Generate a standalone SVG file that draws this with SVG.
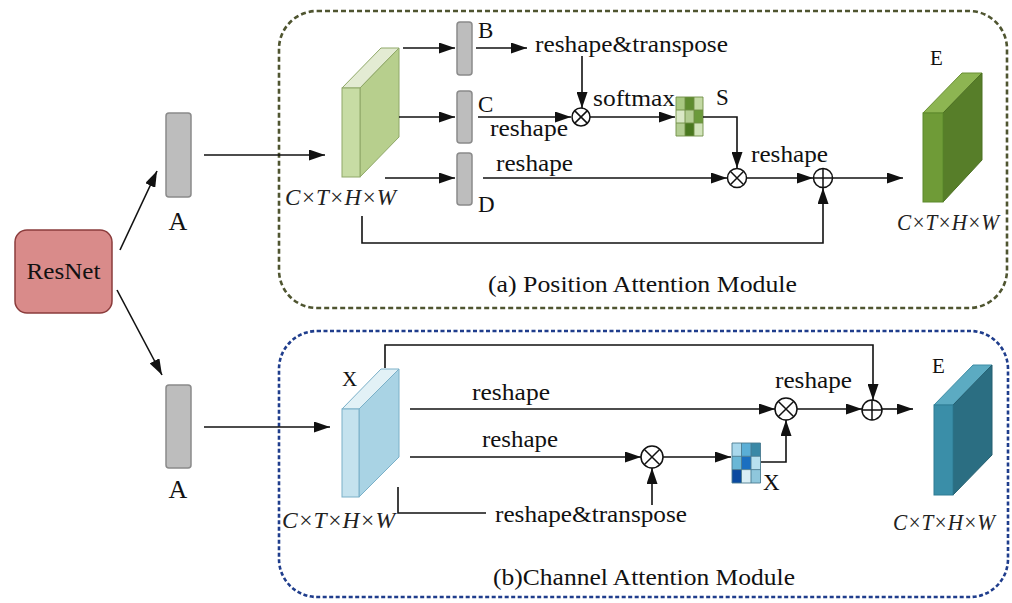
<svg xmlns="http://www.w3.org/2000/svg" width="1012" height="603" viewBox="0 0 1012 603">
<defs>
<style>
.t{font-family:"Liberation Serif","Times New Roman",serif;font-size:23px;fill:#111}
.i{font-family:"Liberation Serif","Times New Roman",serif;font-size:23px;font-style:italic;fill:#222}
.ln{fill:none;stroke:#111;stroke-width:1.6}
.ar{marker-end:url(#ah)}
.op{fill:#fff;stroke:#111;stroke-width:1.5}
.bar{fill:#bdbdbd;stroke:#8a8a8a;stroke-width:1.5}
</style>
<marker id="ah" viewBox="0 0 16 11" refX="16" refY="5.5" markerWidth="16" markerHeight="11" markerUnits="userSpaceOnUse" orient="auto">
<path d="M0,0 L16,5.5 L0,11 z" fill="#111"/>
</marker>
</defs>
<rect width="1012" height="603" fill="#fff"/>

<g id="module-a-frame">
<rect x="279" y="11" width="728" height="297" rx="38" fill="none" stroke="#4f5530" stroke-width="2.6" stroke-dasharray="5 3"/>
<text class="t" x="488" y="292" textLength="309" lengthAdjust="spacingAndGlyphs">(a) Position Attention Module</text>
</g>
<g id="module-b-frame">
<rect x="279" y="331" width="729" height="266" rx="38" fill="none" stroke="#1f3d8c" stroke-width="2.6" stroke-dasharray="4 2.5"/>
<text class="t" x="493" y="585" textLength="302" lengthAdjust="spacingAndGlyphs">(b)Channel Attention Module</text>
</g>

<g id="resnet">
<rect x="15" y="230" width="97" height="83" rx="12" fill="#d98b8a" stroke="#8b3c3c" stroke-width="1.5"/>
<text class="t" x="63.5" y="279" text-anchor="middle" textLength="74" lengthAdjust="spacingAndGlyphs">ResNet</text>
</g>
<g id="a-top">
<rect class="bar" x="166" y="113" width="25" height="84" rx="3"/>
<text class="t" x="178" y="230" text-anchor="middle" style="font-size:26px">A</text>
</g>
<g id="a-bottom">
<rect class="bar" x="166" y="385" width="25" height="83" rx="3"/>
<text class="t" x="178" y="498" text-anchor="middle" style="font-size:26px">A</text>
</g>

<g id="cube-input-a">
<polygon points="342,88 381,48 399,48 360,88" fill="#e3ebd3" stroke="#8fa868" stroke-width="1"/>
<polygon points="360,88 399,48 399,137 360,177" fill="#b7cf8d" stroke="#8fa868" stroke-width="1"/>
<rect x="342" y="88" width="18" height="89" fill="#c7dca4" stroke="#8fa868" stroke-width="1"/>
<text class="i" x="285" y="205" textLength="111" lengthAdjust="spacingAndGlyphs">C×T×H×W</text>
</g>
<g id="bar-b">
<rect class="bar" x="457" y="22" width="15" height="53" rx="3"/>
<text class="t" x="478" y="38">B</text>
</g>
<g id="bar-c">
<rect class="bar" x="457" y="91" width="15" height="52" rx="3"/>
<text class="t" x="478" y="112">C</text>
</g>
<g id="bar-d">
<rect class="bar" x="457" y="153" width="15" height="52" rx="3"/>
<text class="t" x="478" y="212">D</text>
</g>

<g id="matrix-s">
<rect x="676" y="97" width="9" height="13" fill="#a9c882"/>
<rect x="685" y="97" width="9" height="13" fill="#5f8c30"/>
<rect x="694" y="97" width="9" height="13" fill="#c3d9a4"/>
<rect x="676" y="110" width="9" height="13" fill="#dae8c6"/>
<rect x="685" y="110" width="9" height="13" fill="#b3cd92"/>
<rect x="694" y="110" width="9" height="13" fill="#6b9a3b"/>
<rect x="676" y="123" width="9" height="13" fill="#b3cd92"/>
<rect x="685" y="123" width="9" height="13" fill="#4a7820"/>
<rect x="694" y="123" width="9" height="13" fill="#d2e4bb"/>
<path d="M676,97h27v39h-27z M685,97v39 M694,97v39 M676,110h27 M676,123h27" fill="none" stroke="#6f8f45" stroke-width="0.9"/>
<text class="t" x="716" y="105">S</text>
</g>

<g id="op-a-mul1">
<circle class="op" cx="581" cy="117" r="9"/>
<path d="M574.6,110.6L587.4,123.4M587.4,110.6L574.6,123.4" stroke="#111" stroke-width="1.5"/>
</g>
<g id="op-a-mul2">
<circle class="op" cx="737" cy="178" r="9.5"/>
<path d="M730.3,171.3L743.7,184.7M743.7,171.3L730.3,184.7" stroke="#111" stroke-width="1.5"/>
</g>
<g id="op-a-add">
<circle class="op" cx="823" cy="178" r="9.5"/>
<path d="M813.5,178H832.5M823,168.5V187.5" stroke="#111" stroke-width="1.5"/>
</g>

<g id="cube-e-a">
<polygon points="923,113 962,73 982,73 943,113" fill="#8db552" stroke="#6a9034" stroke-width="1"/>
<polygon points="943,113 982,73 982,160 943,202" fill="#577e29" stroke="#4c7022" stroke-width="1"/>
<rect x="923" y="113" width="20" height="89" fill="#6f9b37" stroke="#5d8a2d" stroke-width="1"/>
<text class="t" x="930" y="65" style="font-size:21px">E</text>
<text class="i" x="897" y="230" textLength="102" lengthAdjust="spacingAndGlyphs">C×T×H×W</text>
</g>

<g id="cube-x-b">
<polygon points="342,409 381,369 399,369 359,409" fill="#e2f1f6" stroke="#7ab0c8" stroke-width="1"/>
<polygon points="359,409 399,369 399,457 359,497" fill="#a9d3e4" stroke="#7ab0c8" stroke-width="1"/>
<rect x="342" y="409" width="17" height="88" fill="#c4e2ee" stroke="#7ab0c8" stroke-width="1"/>
<text class="t" x="342" y="386" style="font-size:21px">X</text>
<text class="i" x="282" y="528" textLength="113" lengthAdjust="spacingAndGlyphs">C×T×H×W</text>
</g>

<g id="matrix-x">
<rect x="732" y="443" width="9.5" height="13.3" fill="#a9d8ec"/>
<rect x="741.5" y="443" width="9.5" height="13.3" fill="#5aaed6"/>
<rect x="751" y="443" width="9.5" height="13.3" fill="#3a88a6"/>
<rect x="732" y="456.3" width="9.5" height="13.3" fill="#6ab7d6"/>
<rect x="741.5" y="456.3" width="9.5" height="13.3" fill="#1b6fc0"/>
<rect x="751" y="456.3" width="9.5" height="13.3" fill="#b8e0ee"/>
<rect x="732" y="469.6" width="9.5" height="13.4" fill="#0b4aa0"/>
<rect x="741.5" y="469.6" width="9.5" height="13.4" fill="#d9eef5"/>
<rect x="751" y="469.6" width="9.5" height="13.4" fill="#8fc7dc"/>
<path d="M732,443h28.5v40h-28.5z M741.5,443v40 M751,443v40 M732,456.3h28.5 M732,469.6h28.5" fill="none" stroke="#4a7a90" stroke-width="0.9"/>
<text class="t" x="763" y="490">X</text>
</g>

<g id="op-b-mul1">
<circle class="op" cx="652" cy="457" r="11"/>
<path d="M644.2,449.2L659.8,464.8M659.8,449.2L644.2,464.8" stroke="#111" stroke-width="1.5"/>
</g>
<g id="op-b-mul2">
<circle class="op" cx="786" cy="409" r="11"/>
<path d="M778.2,401.2L793.8,416.8M793.8,401.2L778.2,416.8" stroke="#111" stroke-width="1.5"/>
</g>
<g id="op-b-add">
<circle class="op" cx="872" cy="410" r="10"/>
<path d="M862,410H882M872,400V420" stroke="#111" stroke-width="1.5"/>
</g>

<g id="cube-e-b">
<polygon points="934,405 973,365 992,365 953,405" fill="#5cabc2" stroke="#3f8ea6" stroke-width="1"/>
<polygon points="953,405 992,365 992,455 953,495" fill="#2b6e82" stroke="#245f70" stroke-width="1"/>
<rect x="934" y="405" width="19" height="90" fill="#3a8ea8" stroke="#2f7c94" stroke-width="1"/>
<text class="t" x="932" y="373" style="font-size:21px">E</text>
<text class="i" x="893" y="530" textLength="102" lengthAdjust="spacingAndGlyphs">C×T×H×W</text>
</g>

<g id="connectors">
<path class="ln ar" d="M120,250L157,171"/>
<path class="ln ar" d="M117,290L162,375"/>
<path class="ln ar" d="M204,155H325"/>
<path class="ln ar" d="M204,427H330"/>
<path class="ln ar" d="M403,48H455"/>
<path class="ln ar" d="M399,117H455"/>
<path class="ln ar" d="M385,178H455"/>
<path class="ln ar" d="M476,48H527"/>
<path class="ln ar" d="M582,56V108"/>
<path class="ln ar" d="M478,117H571"/>
<path class="ln ar" d="M590,117H675"/>
<path class="ln ar" d="M703,117H737V168"/>
<path class="ln ar" d="M483,178H727"/>
<path class="ln ar" d="M747,178H813"/>
<path class="ln ar" d="M833,178H903"/>
<path class="ln ar" d="M362,216V243H823V188"/>
<path class="ln ar" d="M385,368V345H873V400"/>
<path class="ln ar" d="M410,409H775"/>
<path class="ln ar" d="M797,409H862"/>
<path class="ln ar" d="M882,409H913"/>
<path class="ln ar" d="M410,457H641"/>
<path class="ln ar" d="M663,457H731"/>
<path class="ln ar" d="M761,462H786V420"/>
<path class="ln" d="M398,487V513H486"/>
<path class="ln ar" d="M652,505V468"/>
<text class="t" x="535" y="52" textLength="193" lengthAdjust="spacingAndGlyphs">reshape&amp;transpose</text>
<text class="t" x="490" y="136" textLength="78" lengthAdjust="spacingAndGlyphs">reshape</text>
<text class="t" x="593" y="106" textLength="82" lengthAdjust="spacingAndGlyphs">softmax</text>
<text class="t" x="496" y="171" textLength="77" lengthAdjust="spacingAndGlyphs">reshape</text>
<text class="t" x="751" y="162" textLength="77" lengthAdjust="spacingAndGlyphs">reshape</text>
<text class="t" x="472" y="400" textLength="78" lengthAdjust="spacingAndGlyphs">reshape</text>
<text class="t" x="482" y="447" textLength="76" lengthAdjust="spacingAndGlyphs">reshape</text>
<text class="t" x="775" y="388" textLength="77" lengthAdjust="spacingAndGlyphs">reshape</text>
<text class="t" x="495" y="522" textLength="192" lengthAdjust="spacingAndGlyphs">reshape&amp;transpose</text>
</g>
</svg>
